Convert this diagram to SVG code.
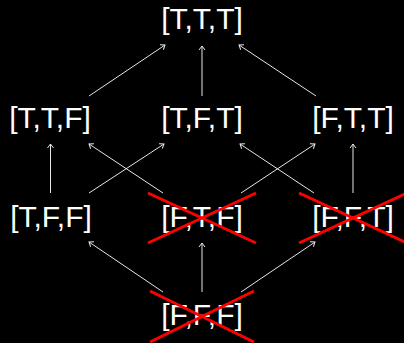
<svg xmlns="http://www.w3.org/2000/svg" width="404" height="343" viewBox="0 0 404 343">
<style>
text{font-family:"Liberation Sans",Arial,sans-serif;font-size:30px;fill:#ffffff;text-anchor:middle}
.c line{stroke:#e6e6e6;stroke-width:1;marker-end:url(#a)}
.x line{stroke:#ff0000;stroke-width:3}
</style>
<defs>
<marker id="a" markerUnits="userSpaceOnUse" markerWidth="10" markerHeight="10" refX="5" refY="4" orient="auto" viewBox="0 0 10 8">
<path d="M1,1 L5,4 L1,7" fill="none" stroke="#e6e6e6" stroke-width="1"/>
</marker>
</defs>
<rect width="404" height="343" fill="#000"/>
<g class="c" id="connectors">
<line x1="89" y1="96" x2="165" y2="45"/>
<line x1="202" y1="96" x2="202" y2="46"/>
<line x1="316" y1="96" x2="239" y2="45"/>
<line x1="50.5" y1="193" x2="50.5" y2="144"/>
<line x1="89" y1="193" x2="164" y2="144"/>
<line x1="163" y1="193" x2="89" y2="144"/>
<line x1="241" y1="193" x2="315" y2="144"/>
<line x1="314" y1="193" x2="240" y2="144"/>
<line x1="353" y1="193" x2="353" y2="144"/>
<line x1="163" y1="292" x2="89" y2="242"/>
<line x1="202" y1="292" x2="202" y2="243"/>
<line x1="241" y1="292" x2="315" y2="242"/>
</g>
<g id="TTT"><text x="202" y="29">[T,T,T]</text></g>
<g id="TTF"><text x="50" y="128">[T,T,F]</text></g>
<g id="TFT"><text x="202" y="128">[T,F,T]</text></g>
<g id="FTT"><text x="353" y="128">[F,T,T]</text></g>
<g id="TFF"><text x="51" y="227">[T,F,F]</text></g>
<g id="FTF"><text x="202" y="227">[F,T,F]</text>
<g class="x"><line x1="148" y1="193" x2="256" y2="243"/><line x1="148" y1="243" x2="256" y2="193"/></g></g>
<g id="FFT"><text x="353" y="227">[F,F,T]</text>
<g class="x"><line x1="299" y1="193" x2="407" y2="243"/><line x1="299" y1="243" x2="407" y2="193"/></g></g>
<g id="FFF"><text x="202" y="325">[F,F,F]</text>
<g class="x"><line x1="150" y1="291" x2="254" y2="342"/><line x1="150" y1="342" x2="254" y2="291"/></g></g>
</svg>
